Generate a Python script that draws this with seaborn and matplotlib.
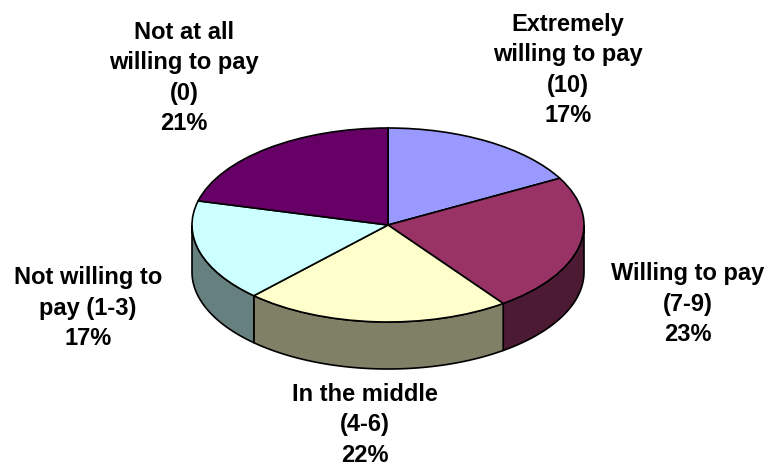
import numpy as np
import matplotlib
matplotlib.use("Agg")
import matplotlib.pyplot as plt
from matplotlib.patches import Wedge, Polygon
from matplotlib.transforms import Affine2D
import seaborn as sns

# Survey answers, clockwise from 12 o'clock
categories = [
    "Extremely\nwilling to pay\n(10)",
    "Willing to pay\n(7-9)",
    "In the middle\n(4-6)",
    "Not willing to\npay (1-3)",
    "Not at all\nwilling to pay\n(0)",
]
shares = [17, 23, 22, 17, 21]

top_colors = ["#9999FF", "#993366", "#FFFFCC", "#CCFFFF", "#660066"]
side_colors = ["#4D4D80", "#4C1A33", "#808066", "#668080", "#330033"]

sns.set_theme(style="white")
plt.rcParams["font.family"] = ["Liberation Sans", "DejaVu Sans"]

W, H = 774, 471
fig = plt.figure(figsize=(W / 100, H / 100), dpi=100)
ax = fig.add_axes([0, 0, 1, 1])
ax.set_xlim(0, W)
ax.set_ylim(H, 0)
ax.axis("off")

# tilted disc geometry (pixel space)
cx, cy, rx, ry, depth = 388, 225, 196, 97, 47
disc = Affine2D().scale(rx, -ry).translate(cx, cy) + ax.transData

fractions = np.asarray(shares, dtype=float) / np.sum(shares)
ends = 90 - 360 * np.cumsum(fractions)
starts = np.concatenate([[90], ends[:-1]])

edge = dict(edgecolor="black", linewidth=1.2)

# front rim of each slice (visible between 180 and 360 degrees)
for s, e, c in zip(starts, ends, side_colors):
    lo, hi = e, s
    for shift in (0, 360, -360):
        a = max(lo + shift, 180)
        b = min(hi + shift, 360)
        if b > a:
            t = np.radians(np.linspace(a, b, 80))
            x = cx + rx * np.cos(t)
            y = cy - ry * np.sin(t)
            pts = np.column_stack([np.r_[x, x[::-1]], np.r_[y, y[::-1] + depth]])
            ax.add_patch(Polygon(pts, closed=True, facecolor=c, **edge))

# top face
for s, e, c in zip(starts, ends, top_colors):
    ax.add_patch(Wedge((0, 0), 1, e, s, facecolor=c, transform=disc, **edge))

# labels
label_xy = [(568, 70), (688, 304), (365, 425), (88, 308), (184, 78)]
for (lx, ly), cat, v in zip(label_xy, categories, shares):
    ax.text(lx, ly, f"{cat}\n{v}%", ha="center", va="center", multialignment="center",
            fontsize=17, fontweight="bold", color="black", linespacing=1.42)

fig.savefig("out.png", dpi=100)
